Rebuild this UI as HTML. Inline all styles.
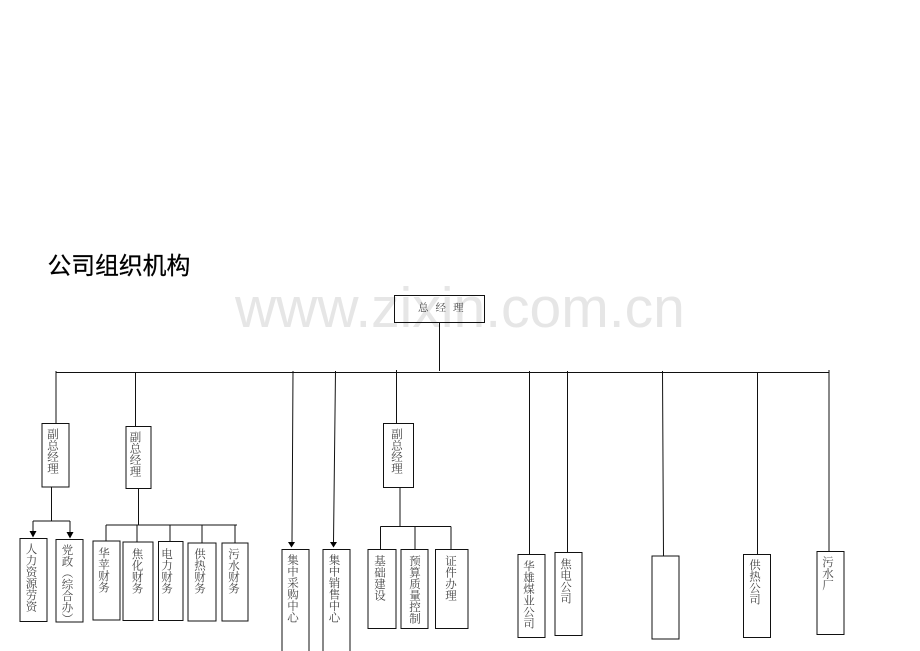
<!DOCTYPE html>
<html><head><meta charset="utf-8">
<style>
html,body{margin:0;padding:0;background:#fff}
#p{position:relative;width:920px;height:651px;overflow:hidden;background:#fff}
svg{position:absolute;left:0;top:0}
.w{position:absolute;left:235px;top:276px;font:57px/64px "Liberation Sans",sans-serif;color:#e6e6e6;white-space:nowrap}
.h{position:absolute;left:47.5px;top:250px;font:23.8px/34px "Liberation Sans","Noto Sans CJK SC",sans-serif;color:#000;-webkit-text-stroke:.25px #000;white-space:nowrap}
.t{position:absolute;width:16px;margin-left:-9px;writing-mode:vertical-rl;text-orientation:upright;font:11.5px/16px "Liberation Serif","Noto Serif CJK SC",serif;color:#444;white-space:nowrap}
.g{position:absolute;left:418px;top:302px;font:10.5px/14px "Liberation Serif","Noto Serif CJK SC",serif;color:#444;letter-spacing:7px;white-space:nowrap}
</style></head><body><div id="p">
<div class="w">www.zixin.com.cn</div>
<div class="h">公司组织机构</div>
<svg width="920" height="651" fill="none" stroke="#111" stroke-width="1">
<rect x="394.5" y="295.5" width="90" height="27"/>
<path d="M439.5 322.5V371M56 372.5H829"/>
<path d="M56 371V423M135.5 372V426M293 371L292 542M335.5 371L333.5 542M396.5 370V423M529.5 371V554M567.5 371V552M662.5 371L663.5 556M757.5 372V554M829 370V551"/>
<rect x="42" y="423.5" width="27" height="63.5"/><rect x="126" y="426.5" width="25" height="62"/>
<path d="M51.5 487V521M33 521H70M33 521V532M70 521V532"/>
<path d="M138.5 488V525M106 525H237M106 525V541M137 525V542M170 525V541M202 525V543M235 525V543"/>
<rect x="20" y="538.5" width="27" height="83"/><rect x="56" y="539.5" width="27" height="82.5"/>
<rect x="93" y="541" width="27" height="79"/><rect x="123" y="542" width="30" height="78.5"/><rect x="158.5" y="541.5" width="24.5" height="79"/><rect x="188" y="543" width="28" height="78"/><rect x="222" y="543" width="26" height="78"/>
<rect x="282" y="549.5" width="27" height="120"/><rect x="323" y="549.5" width="27" height="120"/>
<rect x="383.5" y="423.5" width="30" height="64"/>
<path d="M400 487V526M380.5 526.5H451M380.5 526.5V549M415 526.5V549M451 526.5V549"/>
<rect x="368" y="549.5" width="28" height="79"/><rect x="401" y="549.5" width="27" height="79"/><rect x="435.5" y="549.5" width="32.5" height="79"/>
<rect x="518" y="554.5" width="27" height="83"/><rect x="555" y="552.5" width="27" height="83"/><rect x="652" y="556" width="27" height="83"/><rect x="743.5" y="554.5" width="27" height="83"/><rect x="817" y="551.5" width="27" height="83"/>
<g fill="#000" stroke="none">
<path d="M29.5 531H36.5L33 537.5ZM66.5 532H73.5L70 538.5ZM288 542H295L291.5 547.5ZM330 542H337L333.5 547.5Z"/>
</g>
</svg>
<div class="g">总经理</div>
<div class="t" style="left:53px;top:428px">副总经理</div>
<div class="t" style="left:135.5px;top:431px">副总经理</div>
<div class="t" style="left:397px;top:428px">副总经理</div>
<div class="t" style="left:31.5px;top:543px">人力资源劳资</div>
<div class="t" style="left:67.5px;top:544px">党政（综合办）</div>
<div class="t" style="left:104px;top:547px">华苹财务</div>
<div class="t" style="left:137.5px;top:548px">焦化财务</div>
<div class="t" style="left:167px;top:548px">电力财务</div>
<div class="t" style="left:200px;top:548px">供热财务</div>
<div class="t" style="left:234px;top:548px">污水财务</div>
<div class="t" style="left:293px;top:554px">集中采购中心</div>
<div class="t" style="left:334.5px;top:554px">集中销售中心</div>
<div class="t" style="left:380px;top:555px">基础建设</div>
<div class="t" style="left:415px;top:555px">预算质量控制</div>
<div class="t" style="left:451px;top:555px">证件办理</div>
<div class="t" style="left:529px;top:560px">华雄煤业公司</div>
<div class="t" style="left:566px;top:558px">焦电公司</div>
<div class="t" style="left:755px;top:559px">供热公司</div>
<div class="t" style="left:828px;top:556px">污水厂</div>
</div></body></html>
